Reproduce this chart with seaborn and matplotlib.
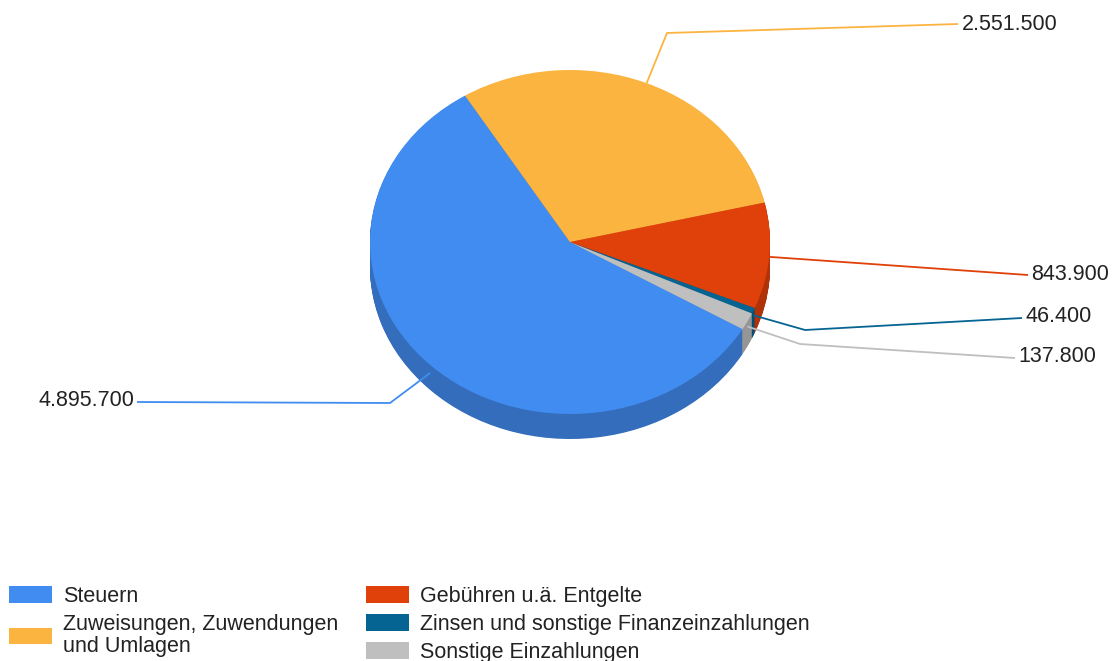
import numpy as np
import matplotlib.pyplot as plt
import seaborn as sns
from matplotlib.patches import Patch

# Einzahlungen nach Arten
categories = ['Steuern', 'Zuweisungen, Zuwendungen\nund Umlagen', 'Gebühren u.ä. Entgelte',
              'Zinsen und sonstige Finanzeinzahlungen', 'Sonstige Einzahlungen']
values = [4895700, 2551500, 843900, 46400, 137800]
value_labels = ['4.895.700', '2.551.500', '843.900', '46.400', '137.800']
colors = ['#418CF0', '#FCB441', '#E0400A', '#056492', '#BFBFBF']

sns.set_theme(style='white')
plt.rcParams['font.family'] = ['Liberation Sans', 'DejaVu Sans']

W, H = 1115, 661
fig = plt.figure(figsize=(W / 100, H / 100), dpi=100)
ax = fig.add_axes([0, 0, 1, 1])

# pie geometry in pixels (ellipse, tilted look)
cx, cy, rx, ry, depth = 570, 242, 200, 172, 25


def px(x, y):
    return (x - cx) / rx, (cy - y) / ry


start = -30.4
pal = sns.color_palette(colors)
side = [tuple(c * 0.78 for c in col) for col in pal]

# side of the "3d" pie: stacked darker copies
n = 30
for k in range(n):
    off = depth * (1 - k / n) / ry
    ax.pie(values, colors=side, startangle=start, counterclock=False,
           center=(0, -off), wedgeprops=dict(linewidth=0))
ax.pie(values, colors=pal, startangle=start, counterclock=False,
       wedgeprops=dict(linewidth=0))

# leader lines + value labels
fr = np.array(values) / sum(values)
mids = np.deg2rad(start - (np.cumsum(fr) - fr / 2) * 360)
elbows = [(390, 403), (667, 33), None, (805, 330), (800, 344)]
ends = [(137, 402), (958, 24), (1028, 275), (1022, 318), (1015, 358)]
text_pos = [(134, 401, 'right'), (962, 24, 'left'), (1031, 275, 'left'),
            (1025, 317, 'left'), (1018, 357, 'left')]

for i, th in enumerate(mids):
    x0, y0 = np.cos(th), np.sin(th)
    if y0 < 0:
        y0 -= -np.sin(th) * depth * 0.45 / ry
    pts = [(x0, y0)]
    if elbows[i] is not None:
        pts.append(px(*elbows[i]))
    pts.append(px(*ends[i]))
    xs, ys = zip(*pts)
    ax.plot(xs, ys, color=pal[i], lw=1.3, solid_capstyle='butt')
    tx, ty, ha = text_pos[i]
    ax.text(*px(tx, ty), value_labels[i], ha=ha, va='center', fontsize=15.5, color='#222222')

ax.set_aspect('auto')
ax.set_xlim(px(0, 0)[0], px(W, 0)[0])
ax.set_ylim(px(0, H)[1], px(0, 0)[1])
ax.axis('off')

# legend in two columns
handles = [Patch(facecolor=c, edgecolor='none') for c in pal]
kw = dict(loc='upper left', frameon=False, fontsize=15.5, handlelength=2.0,
          handleheight=0.8, handletextpad=0.5, labelspacing=0.33,
          borderaxespad=0, borderpad=0, labelcolor='#222222')
leg1 = fig.legend(handles[:2], categories[:2], bbox_to_anchor=(9 / W, 1 - 586 / H), **kw)
leg1.get_texts()[1].set_linespacing(1.05)
fig.legend(handles[2:], categories[2:], bbox_to_anchor=(366 / W, 1 - 586 / H), **kw)

fig.savefig('out.png', dpi=100)
